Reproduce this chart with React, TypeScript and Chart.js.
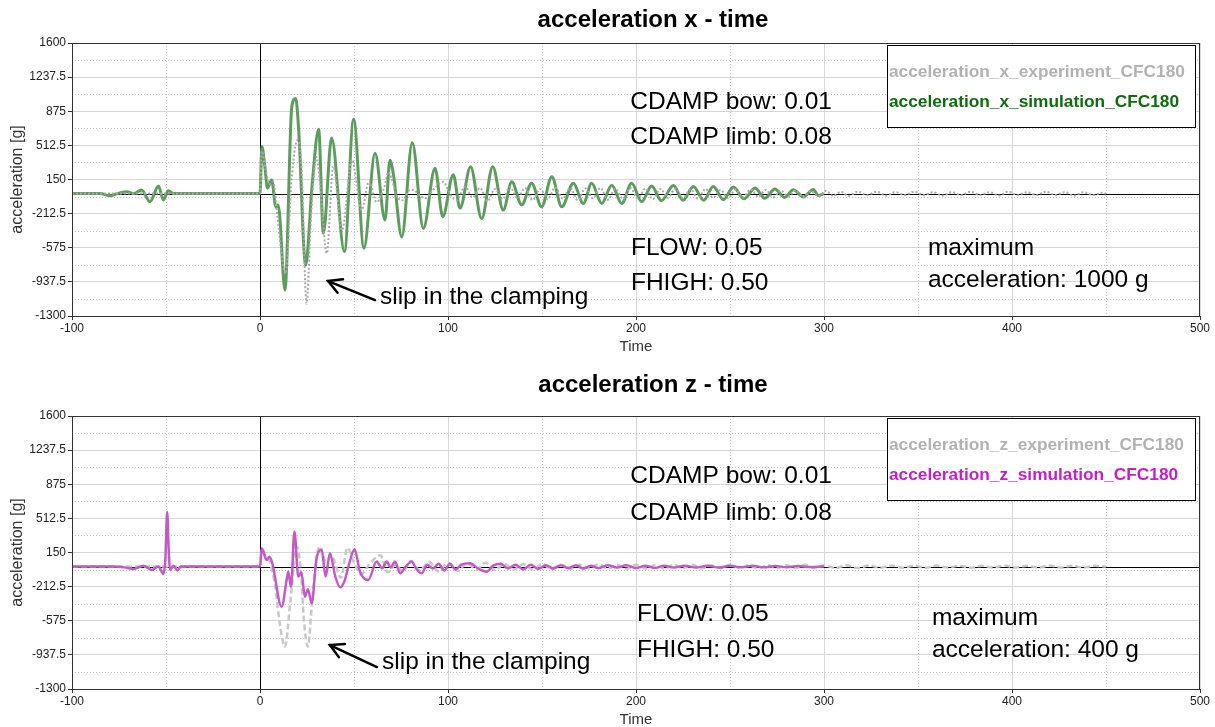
import React, { useEffect, useRef } from "react";
import { Chart, registerables } from "chart.js";

Chart.register(...registerables);

const FONT = "'Liberation Sans', Arial, Helvetica, sans-serif";

// ---------- axes ----------
const xTicks = [-100, 0, 100, 200, 300, 400, 500];
const xTickLabels = ["-100", "0", "100", "200", "300", "400", "500"];
const xMinorTicks = [-50, 50, 150, 250, 350, 450];
const yTicks = [-1300, -937.5, -575, -212.5, 150, 512.5, 875, 1237.5, 1600];
const yTickLabels = ["-1300", "-937.5", "-575", "-212.5", "150", "512.5", "875", "1237.5", "1600"];
const yMinorTicks = [-1118.75, -756.25, -393.75, -31.25, 331.25, 693.75, 1056.25, 1418.75];

// ---------- series: [time, acceleration] ----------
const xExperiment: [number, number][] = [
  [-100, 0], [0, 0], [1, 450], [3, 250], [5, 100], [7, 130], [9, -200], [13.6, -850], [17, 200], [20, 570],
  [22, 300], [24.8, -1170], [27, -300], [30, 390], [32, 100], [35.5, -635], [39, 290], [43.6, -390], [48.9, 360],
  [54, -175], [58, 130], [62, -90], [66, 60], [68.3, 230], [70, 160], [73, -40], [76.2, -70], [79, 30], [81.6, 40],
  [85, -20], [88, -50], [92, 40], [97.5, 125], [101, 0], [104.6, -70], [109, 75], [113, -40], [117, 60], [121, -80],
  [125, 50], [129, -60], [133, 70], [137, -50], [141, 60], [145, -70], [149, 50], [153, -60], [157, 65], [161, -55],
  [165, 60], [169, -70], [173, 55], [177, -50], [181, 60], [185, -65], [189, 50], [193, -55], [197, 60], [201, -50],
  [205, 55], [209, -60], [213, 50], [217, -45], [221, 55], [225, -50], [229, 45], [233, -55], [237, 50], [241, -45],
  [245, 40], [249, -50], [253, 45], [257, -40], [261, 45], [265, -35], [269, 40], [273, -40], [277, 35], [281, -30],
  [285, 35], [289, -35], [293, 30], [297, -30], [301, 30], [305, -25], [309, 20], [313, -25], [318, 20], [323, -15],
  [328, 20], [333, -20], [338, 15], [343, -15], [348, 20], [353, -15], [358, 15], [363, -20], [368, 15], [373, -15],
  [378, 20], [383, -15], [388, 15], [393, -20], [398, 20], [403, -15], [408, 15], [413, -15], [418, 20], [423, -15],
  [428, 15], [433, -20], [438, 15], [443, -15], [448, 10], [450, 0],
];

const xSimulation: [number, number][] = [
  [-100, 0], [-85, 0], [-80, -22], [-75, 5], [-71, 20], [-67, 0], [-63, 38], [-58.5, -86], [-54, 81], [-51.4, -68],
  [-48.8, 31], [-46, 0], [-1, 0], [0, 0], [1, 500], [2.5, 300], [4, 60], [6.2, 145], [8.4, -140], [9.7, -120],
  [13.3, -1025], [16.9, 920], [19, 1010], [20.5, 700], [24.3, -760], [27.8, 110], [31.2, 685], [33.7, -420],
  [38.1, 590], [44.9, -615], [49.8, 790], [55.3, -580], [61.2, 430], [66.5, -280], [69.1, 355], [71, 200],
  [75.4, -460], [81, 540], [86.9, -370], [93.1, 270], [97.2, -245], [102.8, 200], [106.4, -155], [112, 285],
  [117.9, -265], [123.8, 285], [129.4, -175], [133.9, 125], [139.2, -120], [144.5, 110], [149.8, -140], [155.2, 180],
  [160.5, -140], [166.7, 110], [172, -105], [176.4, 110], [181.8, -105], [187.1, 90], [192.4, -105], [197.7, 110],
  [203, -85], [208.3, 80], [213.5, -75], [219.9, 85], [225, -70], [230.5, 75], [236, -70], [241.1, 75], [246.5, -65],
  [251.8, 70], [257.5, -55], [263.3, 60], [268.5, -50], [273.9, 50], [279, -40], [283.7, 40], [289, -35], [294.3, 45],
  [297, -20], [300, 0],
];

const zExperiment: [number, number][] = [
  [-100, 0], [0, 0], [1, 180], [3, 100], [5, 60], [8, -200], [10.5, -600], [13.3, -850], [16, -400], [19.5, 213],
  [21.5, 0], [23.5, -600], [25.4, -850], [28, -300], [30, 100], [32, 213], [35, 50], [38, 120], [43, -120],
  [46.5, 200], [50, 40], [54, -80], [58, 20], [64, 120], [68, -60], [72, 20], [76, -50], [80, 60], [85, -40],
  [90, 50], [95, -50], [100, 40], [105, -45], [110, 35], [115, -30], [120, 40], [125, -35], [130, 30], [135, -30],
  [140, 25], [145, -30], [150, 25], [155, -25], [160, 20], [165, -25], [170, 20], [175, -20], [180, 25], [185, -20],
  [190, 20], [195, -25], [200, 20], [205, -20], [210, 15], [215, -20], [220, 20], [225, -15], [230, 20], [235, -20],
  [240, 15], [245, -15], [250, 20], [255, -15], [260, 15], [265, -20], [270, 15], [275, -15], [280, 15], [285, -15],
  [290, 20], [295, -15], [300, 15], [306, -15], [312, 15], [318, -15], [324, 12], [330, -12], [336, 12], [342, -12],
  [348, 10], [354, -12], [360, 12], [366, -10], [372, 10], [378, -12], [384, 10], [390, -10], [396, 12], [402, -10],
  [408, 10], [414, -10], [420, 12], [426, -10], [432, 10], [438, -10], [444, 10], [450, 0],
];

const zSimulation: [number, number][] = [
  [-100, 0], [-78, 0], [-72, -8], [-67.4, -25], [-62, 10], [-57.6, -36], [-54, 0], [-51.4, -79], [-50.3, 100],
  [-49.4, 580], [-48.5, 150], [-47.9, -36], [-46, 10], [-44, -40], [-42, 5], [-40, 0], [0, 0], [0.9, 195], [2, 150],
  [3.5, 70], [5, 105], [6.5, 40], [11.5, -425], [14.2, -140], [15, -55], [16.5, -213], [18.3, 372], [20.4, -106],
  [22, -60], [23.9, -320], [25.5, -240], [27.5, -390], [30.1, 90], [32.8, 177], [34.9, -106], [37.2, 142], [40, -100],
  [42.6, -220], [45, -150], [47, 0], [50.3, 184], [53.2, -54], [57.6, -142], [62, 54], [65, -17], [67.4, 54],
  [69.5, -10], [71.8, 54], [74.5, -71], [77.5, 0], [80.7, 54], [83, -20], [86, -71], [89, 20], [92, -20], [95, 30],
  [98, -40], [101, 30], [104, -30], [107, 20], [111.7, 36], [116, -20], [120.6, -54], [124, 10], [128, 30],
  [132, -20], [136, 20], [140, -30], [144, 20], [148, -25], [152, 15], [156, -20], [160, 15], [164, -15], [168, 15],
  [172, -20], [176, 10], [180, -15], [185, 15], [190, -10], [195, 15], [200, -15], [205, 10], [210, -15], [215, 10],
  [220, -10], [226, 10], [232, -10], [238, 10], [244, -10], [250, 8], [256, -8], [262, 8], [268, -8], [274, 6],
  [280, -6], [286, 6], [292, -5], [300, 0],
];

// ---------- annotation texts (in data coordinates) ----------
type Note = { text: string; t: number; v: number };
const xNotes: Note[] = [
  { text: "CDAMP bow: 0.01", t: 197, v: 974 },
  { text: "CDAMP limb: 0.08", t: 197, v: 602 },
  { text: "FLOW: 0.05", t: 197.3, v: -578 },
  { text: "FHIGH: 0.50", t: 197.3, v: -950 },
  { text: "maximum", t: 355.3, v: -578 },
  { text: "acceleration: 1000 g", t: 355.3, v: -918 },
  { text: "slip in the clamping", t: 63.8, v: -1099 },
];
const zNotes: Note[] = [
  { text: "CDAMP bow: 0.01", t: 197, v: 963 },
  { text: "CDAMP limb: 0.08", t: 197, v: 570 },
  { text: "FLOW: 0.05", t: 200.5, v: -504 },
  { text: "FHIGH: 0.50", t: 200.5, v: -887 },
  { text: "maximum", t: 357.4, v: -546 },
  { text: "acceleration: 400 g", t: 357.4, v: -887 },
  { text: "slip in the clamping", t: 64.9, v: -1014 },
];
const xArrow: [number, number][] = [[61.2, -1131], [36.2, -929]];
const zArrow: [number, number][] = [[62.2, -1067], [37.2, -833]];

type PanelSpec = {
  top: number;
  height: number;
  padTop: number;
  title: string;
  titleY: number;
  legend: { text: string; color: string }[];
  notes: Note[];
  arrow: [number, number][];
  datasets: any[];
};

const pts = (arr: [number, number][]) => arr.map(([x, y]) => ({ x, y }));

const panels: PanelSpec[] = [
  {
    top: 0,
    height: 354,
    padTop: 43,
    title: "acceleration x - time",
    titleY: 20,
    legend: [
      { text: "acceleration_x_experiment_CFC180", color: "#b2b2b2" },
      { text: "acceleration_x_simulation_CFC180", color: "#0d6e0d" },
    ],
    notes: xNotes,
    arrow: xArrow,
    datasets: [
      { data: pts(xExperiment), borderColor: "#a9a9a9", borderWidth: 2, borderDash: [2, 2], order: 0 },
      { data: pts(xSimulation), borderColor: "#5c9c5c", borderWidth: 3, order: 1 },
    ],
  },
  {
    top: 354,
    height: 373,
    padTop: 62,
    title: "acceleration z - time",
    titleY: 31,
    legend: [
      { text: "acceleration_z_experiment_CFC180", color: "#b2b2b2" },
      { text: "acceleration_z_simulation_CFC180", color: "#c81ec8" },
    ],
    notes: zNotes,
    arrow: zArrow,
    datasets: [
      { data: pts(zExperiment), borderColor: "#c8c8c8", borderWidth: 2.5, borderDash: [6, 3], order: 1 },
      { data: pts(zSimulation), borderColor: "#c45ac8", borderWidth: 2.5, order: 0 },
    ],
  },
];

function makeDecor(spec: PanelSpec) {
  return {
    id: "decor",
    beforeDatasetsDraw(chart: any) {
      const { ctx, chartArea: a, scales } = chart;
      const x = scales.x, y = scales.y;
      ctx.save();
      ctx.strokeStyle = "#c4c4c4";
      ctx.lineWidth = 1;
      ctx.setLineDash([1, 2]);
      for (const v of yMinorTicks) {
        const py = Math.round(y.getPixelForValue(v)) + 0.5;
        ctx.beginPath(); ctx.moveTo(a.left, py); ctx.lineTo(a.right, py); ctx.stroke();
      }
      for (const v of xMinorTicks) {
        const px = Math.round(x.getPixelForValue(v)) + 0.5;
        ctx.beginPath(); ctx.moveTo(px, a.top); ctx.lineTo(px, a.bottom); ctx.stroke();
      }
      ctx.setLineDash([]);
      ctx.strokeStyle = "#000";
      const y0 = Math.round(y.getPixelForValue(0)) + 0.5;
      const x0 = Math.round(x.getPixelForValue(0)) + 0.5;
      ctx.beginPath(); ctx.moveTo(a.left, y0); ctx.lineTo(a.right, y0); ctx.stroke();
      ctx.beginPath(); ctx.moveTo(x0, a.top); ctx.lineTo(x0, a.bottom); ctx.stroke();
      ctx.restore();
    },
    afterDraw(chart: any) {
      const { ctx, chartArea: a, scales } = chart;
      const x = scales.x, y = scales.y;
      ctx.save();
      // frame
      ctx.strokeStyle = "#333";
      ctx.lineWidth = 1;
      ctx.strokeRect(Math.round(a.left) + 0.5, Math.round(a.top) + 0.5, Math.round(a.right - a.left) - 1, Math.round(a.bottom - a.top));
      // title
      ctx.fillStyle = "#000";
      ctx.font = `bold 24px ${FONT}`;
      ctx.textAlign = "center";
      ctx.textBaseline = "middle";
      ctx.fillText(spec.title, 653, spec.titleY);
      // annotations
      ctx.font = `24.5px ${FONT}`;
      ctx.textAlign = "left";
      for (const n of spec.notes) {
        ctx.fillText(n.text, x.getPixelForValue(n.t), y.getPixelForValue(n.v));
      }
      // arrow
      const [p0, p1] = spec.arrow;
      const ax0 = x.getPixelForValue(p0[0]), ay0 = y.getPixelForValue(p0[1]);
      const ax1 = x.getPixelForValue(p1[0]), ay1 = y.getPixelForValue(p1[1]);
      ctx.strokeStyle = "#000";
      ctx.lineWidth = 2.5;
      ctx.lineCap = "round";
      ctx.beginPath(); ctx.moveTo(ax0, ay0); ctx.lineTo(ax1, ay1); ctx.stroke();
      const ang = Math.atan2(ay0 - ay1, ax0 - ax1);
      const L = 15, w = 0.5;
      ctx.beginPath();
      ctx.moveTo(ax1 + L * Math.cos(ang + w), ay1 + L * Math.sin(ang + w));
      ctx.lineTo(ax1, ay1);
      ctx.lineTo(ax1 + L * Math.cos(ang - w), ay1 + L * Math.sin(ang - w));
      ctx.stroke();
      // legend box
      const bx = 887.5, by = a.top + 2.5, bw = 308, bh = 82;
      ctx.fillStyle = "#fff";
      ctx.fillRect(bx, by, bw, bh);
      ctx.strokeStyle = "#000";
      ctx.lineWidth = 1;
      ctx.strokeRect(bx, by, bw, bh);
      ctx.font = `bold 17.3px ${FONT}`;
      ctx.textBaseline = "middle";
      spec.legend.forEach((it, i) => {
        ctx.fillStyle = it.color;
        ctx.fillText(it.text, 889, a.top + 29 + i * 30.5);
      });
      ctx.restore();
    },
  };
}

function Panel({ spec }: { spec: PanelSpec }) {
  const ref = useRef<HTMLCanvasElement>(null);
  useEffect(() => {
    const chart = new Chart(ref.current as HTMLCanvasElement, {
      type: "line",
      data: {
        datasets: spec.datasets.map((d) => ({
          ...d,
          pointRadius: 0,
          fill: false,
          tension: 0.4,
          cubicInterpolationMode: "monotone",
        })),
      },
      options: {
        animation: false,
        responsive: false,
        maintainAspectRatio: false,
        devicePixelRatio: 1,
        layout: { padding: { top: spec.padTop, right: 15, left: 0, bottom: 0 } },
        plugins: { legend: { display: false }, tooltip: { enabled: false }, title: { display: false } },
        scales: {
          x: {
            type: "linear",
            min: -100,
            max: 500,
            afterBuildTicks: (s: any) => {
              s.ticks = xTicks.map((value) => ({ value }));
            },
            afterFit: (s: any) => {
              s.height = 38;
            },
            ticks: {
              autoSkip: false,
              maxRotation: 0,
              padding: 1,
              color: "#222",
              font: { family: FONT, size: 12 },
              callback: (_v: any, i: number) => xTickLabels[i],
            },
            grid: { color: "#d6d6d6", lineWidth: 1, tickLength: 4, tickColor: "#333" },
            border: { display: true, color: "#333", width: 1 },
            title: {
              display: true,
              text: "Time",
              color: "#333",
              font: { family: FONT, size: 15 },
              padding: { top: 0, bottom: -2 },
            },
          },
          y: {
            type: "linear",
            min: -1300,
            max: 1600,
            afterBuildTicks: (s: any) => {
              s.ticks = yTicks.map((value) => ({ value }));
            },
            afterFit: (s: any) => {
              s.width = 72;
            },
            ticks: {
              autoSkip: false,
              padding: 2,
              color: "#222",
              font: { family: FONT, size: 12 },
              callback: (_v: any, i: number) => yTickLabels[i],
            },
            grid: { color: "#d6d6d6", lineWidth: 1, tickLength: 4, tickColor: "#333" },
            border: { display: true, color: "#333", width: 1 },
            title: {
              display: true,
              text: "acceleration [g]",
              color: "#333",
              font: { family: FONT, size: 16 },
              padding: { top: 8, bottom: 0 },
            },
          },
        },
      } as any,
      plugins: [makeDecor(spec)],
    });
    return () => chart.destroy();
  }, [spec]);
  return (
    <canvas
      ref={ref}
      width={1215}
      height={spec.height}
      style={{ position: "absolute", left: 0, top: spec.top, width: 1215, height: spec.height, display: "block" }}
    />
  );
}

export default function App() {
  return (
    <div style={{ position: "absolute", left: 0, top: 0, width: 1215, height: 727, background: "#fff", overflow: "hidden" }}>
      {panels.map((p, i) => (
        <Panel key={i} spec={p} />
      ))}
    </div>
  );
}
